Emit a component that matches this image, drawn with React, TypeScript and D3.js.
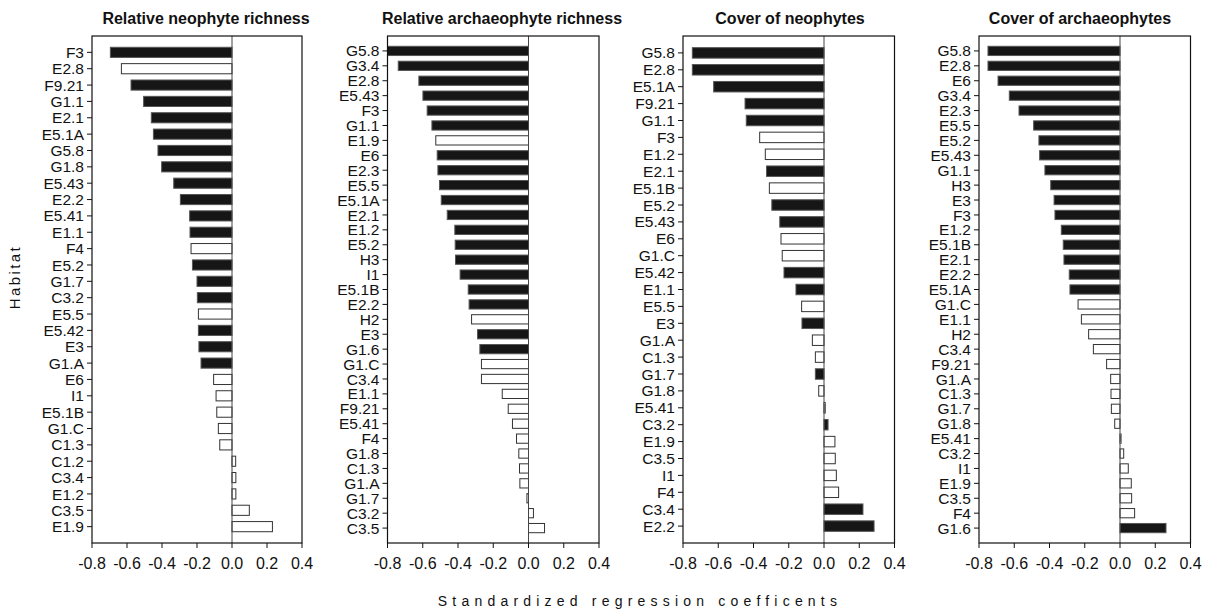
import React from "react";
import * as d3 from "d3";

const p1Habitats = ["F3","E2.8","F9.21","G1.1","E2.1","E5.1A","G5.8","G1.8","E5.43","E2.2","E5.41","E1.1","F4","E5.2","G1.7","C3.2","E5.5","E5.42","E3","G1.A","E6","I1","E5.1B","G1.C","C1.3","C1.2","C3.4","E1.2","C3.5","E1.9"];
const p1Values = [-0.695,-0.632,-0.577,-0.505,-0.461,-0.449,-0.423,-0.402,-0.333,-0.295,-0.242,-0.240,-0.234,-0.226,-0.200,-0.198,-0.192,-0.192,-0.189,-0.177,-0.105,-0.091,-0.087,-0.078,-0.070,0.021,0.022,0.022,0.099,0.231];
const p1Significant = [1,0,1,1,1,1,1,1,1,1,1,1,0,1,1,1,0,1,1,1,0,0,0,0,0,0,0,0,0,0];

const p2Habitats = ["G5.8","G3.4","E2.8","E5.43","F3","G1.1","E1.9","E6","E2.3","E5.5","E5.1A","E2.1","E1.2","E5.2","H3","I1","E5.1B","E2.2","H2","E3","G1.6","G1.C","C3.4","E1.1","F9.21","E5.41","F4","G1.8","C1.3","G1.A","G1.7","C3.2","C3.5"];
const p2Values = [-0.800,-0.739,-0.622,-0.599,-0.575,-0.548,-0.526,-0.518,-0.514,-0.505,-0.495,-0.461,-0.418,-0.416,-0.414,-0.388,-0.342,-0.337,-0.323,-0.289,-0.276,-0.267,-0.267,-0.149,-0.115,-0.091,-0.068,-0.055,-0.051,-0.049,-0.009,0.028,0.091];
const p2Significant = [1,1,1,1,1,1,0,1,1,1,1,1,1,1,1,1,1,1,0,1,1,0,0,0,0,0,0,0,0,0,0,0,0];

const p3Habitats = ["G5.8","E2.8","E5.1A","F9.21","G1.1","F3","E1.2","E2.1","E5.1B","E5.2","E5.43","E6","G1.C","E5.42","E1.1","E5.5","E3","G1.A","C1.3","G1.7","G1.8","E5.41","C3.2","E1.9","C3.5","I1","F4","C3.4","E2.2"];
const p3Values = [-0.747,-0.747,-0.626,-0.448,-0.441,-0.365,-0.333,-0.326,-0.310,-0.296,-0.251,-0.244,-0.237,-0.227,-0.159,-0.127,-0.125,-0.066,-0.049,-0.049,-0.030,0.007,0.023,0.062,0.064,0.070,0.083,0.221,0.284];
const p3Significant = [1,1,1,1,1,0,0,1,0,1,1,0,0,1,1,0,1,0,0,1,0,0,1,0,0,0,0,1,1];

const p4Habitats = ["G5.8","E2.8","E6","G3.4","E2.3","E5.5","E5.2","E5.43","G1.1","H3","E3","F3","E1.2","E5.1B","E2.1","E2.2","E5.1A","G1.C","E1.1","H2","C3.4","F9.21","G1.A","C1.3","G1.7","G1.8","E5.41","C3.2","I1","E1.9","C3.5","F4","G1.6"];
const p4Values = [-0.749,-0.749,-0.692,-0.628,-0.573,-0.490,-0.460,-0.456,-0.426,-0.393,-0.374,-0.369,-0.333,-0.322,-0.318,-0.288,-0.284,-0.238,-0.219,-0.178,-0.151,-0.076,-0.053,-0.051,-0.049,-0.030,0.006,0.021,0.047,0.064,0.066,0.083,0.261];
const p4Significant = [1,1,1,1,1,1,1,1,1,1,1,1,1,1,1,1,1,0,0,0,0,0,0,0,0,0,0,0,0,0,0,0,1];

const panelTitles = ["Relative neophyte richness","Relative archaeophyte richness","Cover of neophytes","Cover of archaeophytes"];
const xTicks = [-0.8,-0.6,-0.4,-0.2,0.0,0.2,0.4];
const xDomain = [-0.8, 0.4];
const yTitle = "Habitat";
const xTitle = "Standardized regression coefficents";

const panels = [
  { habitats: p1Habitats, values: p1Values, sig: p1Significant, title: panelTitles[0] },
  { habitats: p2Habitats, values: p2Values, sig: p2Significant, title: panelTitles[1] },
  { habitats: p3Habitats, values: p3Values, sig: p3Significant, title: panelTitles[2] },
  { habitats: p4Habitats, values: p4Values, sig: p4Significant, title: panelTitles[3] },
];

const panelLefts = [92, 387.5, 683, 979];
const panelWidths = [210, 211.5, 211.5, 211.5];
const titleCenters = [206, 502, 790, 1080];
const top = 36;
const bottom = 543;
const font = "'Liberation Sans', Arial, sans-serif";
const fmt = (v: number) => d3.format(".1f")(v).replace("\u2212", "-");

function Panel({ idx }: { idx: number }) {
  const p = panels[idx];
  const left = panelLefts[idx];
  const right = left + panelWidths[idx];
  const x = d3.scaleLinear().domain(xDomain).range([left, right]);
  const y = d3.scalePoint<string>().domain(p.habitats.map((h, i) => i + "")).range([top, bottom]).padding(1);
  const step = y.step();
  const bh = step * 0.62;
  const x0 = x(0);
  return (
    <g>
      <text x={titleCenters[idx]} y={24} textAnchor="middle" fontFamily={font} fontWeight="bold" fontSize={16} fill="#111">{p.title}</text>
      {p.values.map((v, i) => {
        const cy = y(i + "") as number;
        const xa = Math.min(x(v), x0);
        const w = Math.max(Math.abs(x(v) - x0), 0.6);
        const filled = p.sig[i] === 1;
        return (
          <rect key={i} x={xa} y={cy - bh / 2} width={w} height={bh}
            fill={filled ? "#161616" : "#fff"} stroke={filled ? "#555" : "#333"} strokeWidth={1} />
        );
      })}
      <line x1={x0} x2={x0} y1={top} y2={bottom} stroke="#444" strokeWidth={1} />
      <rect x={left} y={top} width={right - left} height={bottom - top} fill="none" stroke="#111" strokeWidth={1.2} />
      {p.habitats.map((h, i) => {
        const cy = y(i + "") as number;
        return (
          <g key={i}>
            <line x1={left - 5} x2={left} y1={cy} y2={cy} stroke="#111" strokeWidth={1} />
            <text x={left - 8} y={cy} dy="0.36em" textAnchor="end" fontFamily={font} fontSize={15.5} fill="#111">{h}</text>
          </g>
        );
      })}
      {xTicks.map((t, i) => (
        <g key={i}>
          <line x1={x(t)} x2={x(t)} y1={bottom} y2={bottom + 5} stroke="#111" strokeWidth={1} />
          <text x={x(t)} y={569} textAnchor="middle" fontFamily={font} fontSize={16} fill="#111">{fmt(t)}</text>
        </g>
      ))}
    </g>
  );
}

export default function App() {
  return (
    <svg width={1213} height={613} style={{ position: "absolute", left: 0, top: 0, background: "#fff" }}>
      <rect x={0} y={0} width={1213} height={613} fill="#fff" />
      {panels.map((_, i) => <Panel key={i} idx={i} />)}
      <text transform="translate(20,277) rotate(-90)" textAnchor="middle" fontFamily={font} fontSize={15} letterSpacing={2.4} fill="#111">{yTitle}</text>
      <text x={640} y={606} textAnchor="middle" fontFamily={font} fontSize={14} letterSpacing={5.2} fill="#111">{xTitle}</text>
    </svg>
  );
}
